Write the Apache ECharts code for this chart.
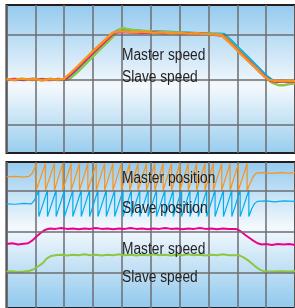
<!DOCTYPE html>
<html>
<head>
<meta charset="utf-8">
<script src="https://cdn.jsdelivr.net/npm/echarts@6/dist/echarts.min.js"></script>
<style>
  html, body { margin: 0; padding: 0; background: #fff; }
  #main { width: 295px; height: 308px; }
</style>
</head>
<body>
<div id="main"></div>
<script>
// x in scope divisions (0..10), y in vertical divisions

// top panel: master / slave speed, four captures overlaid
var topOrange = [[0,0.01],[0.25,-0.01],[0.5,0.02],[0.75,0],[1.0,0.01],[1.25,-0.02],[1.5,0.01],[1.75,0],[1.98,0.01],[2.2,0.13],[2.45,0.28],[2.7,0.44],[2.95,0.6],[3.2,0.75],[3.45,0.9],[3.68,1.04],[3.9,1.07],[4.2,1.06],[4.5,1.05],[4.8,1.06],[5.1,1.04],[5.4,1.05],[5.7,1.03],[6.0,1.04],[6.3,1.02],[6.6,1.03],[6.9,1.01],[7.2,1.0],[7.45,0.99],[7.7,0.84],[7.95,0.68],[8.2,0.52],[8.45,0.37],[8.7,0.22],[8.95,0.06],[9.1,-0.01],[9.3,-0.03],[9.55,-0.04],[9.8,-0.03],[10,-0.04]];
var topMagenta = [[0,0],[0.3,0.01],[0.6,-0.01],[0.9,0.01],[1.2,0],[1.5,-0.01],[1.8,0.01],[2.03,0],[2.25,0.13],[2.5,0.28],[2.75,0.44],[3.0,0.6],[3.25,0.75],[3.5,0.9],[3.73,1.04],[3.95,1.06],[4.3,1.05],[4.7,1.04],[5.1,1.05],[5.5,1.03],[5.9,1.03],[6.3,1.02],[6.7,1.02],[7.1,1.0],[7.48,0.98],[7.75,0.82],[8.0,0.66],[8.25,0.5],[8.5,0.35],[8.75,0.19],[9.0,0.04],[9.15,-0.03],[9.4,-0.05],[9.7,-0.04],[10,-0.05]];
var topGreen = [[0,-0.01],[0.3,0],[0.6,0.01],[0.9,-0.01],[1.2,0.01],[1.5,0],[1.8,-0.01],[2.1,0],[2.2,0.02],[2.45,0.16],[2.7,0.32],[2.95,0.48],[3.2,0.64],[3.45,0.8],[3.7,0.96],[3.88,1.1],[4.02,1.15],[4.2,1.12],[4.5,1.09],[4.8,1.08],[5.2,1.06],[5.6,1.05],[6.0,1.04],[6.4,1.03],[6.8,1.02],[7.2,1.01],[7.5,0.99],[7.75,0.84],[8.0,0.68],[8.25,0.52],[8.5,0.36],[8.75,0.2],[9.0,0.04],[9.2,-0.07],[9.45,-0.13],[9.6,-0.13],[9.8,-0.1],[10,-0.09]];
var topCyan = [[0,0.01],[0.3,-0.01],[0.6,0],[0.9,0.01],[1.2,-0.01],[1.5,0.01],[1.8,0],[2.12,0],[2.35,0.14],[2.6,0.3],[2.85,0.46],[3.1,0.62],[3.35,0.78],[3.6,0.94],[3.82,1.08],[4.0,1.12],[4.3,1.1],[4.7,1.08],[5.1,1.07],[5.5,1.06],[5.9,1.05],[6.3,1.04],[6.7,1.03],[7.1,1.02],[7.55,1.01],[7.8,0.86],[8.05,0.7],[8.3,0.54],[8.55,0.38],[8.8,0.22],[9.05,0.06],[9.25,-0.03],[9.5,-0.05],[9.75,-0.04],[10,-0.05]];

// bottom panel: position counters (wrapping) and speeds
var masterPos = [[0,1.33],[0.3,1.34],[0.6,1.32],[0.78,1.34],[0.9,1.42],[0.98,1.55],[1.03,1.65],[1.03,1.0],[1.35,1.65],[1.35,1.0],[1.66,1.65],[1.66,1.0],[1.95,1.65],[1.95,1.0],[2.24,1.65],[2.24,1.0],[2.53,1.65],[2.53,1.0],[2.82,1.65],[2.82,1.0],[3.11,1.65],[3.11,1.0],[3.40,1.65],[3.40,1.0],[3.69,1.65],[3.69,1.0],[3.98,1.65],[3.98,1.0],[4.27,1.65],[4.27,1.0],[4.56,1.65],[4.56,1.0],[4.85,1.65],[4.85,1.0],[5.14,1.65],[5.14,1.0],[5.43,1.65],[5.43,1.0],[5.72,1.65],[5.72,1.0],[6.01,1.65],[6.01,1.0],[6.30,1.65],[6.30,1.0],[6.59,1.65],[6.59,1.0],[6.88,1.65],[6.88,1.0],[7.17,1.65],[7.17,1.0],[7.46,1.65],[7.46,1.0],[7.75,1.65],[7.75,1.0],[8.04,1.65],[8.04,1.0],[8.34,1.65],[8.34,1.0],[8.45,1.18],[8.55,1.33],[8.66,1.42],[8.9,1.43],[9.2,1.41],[9.5,1.43],[9.8,1.42],[10,1.43]];
var slavePos = [[0,0.67],[0.3,0.66],[0.6,0.68],[0.86,0.67],[0.97,0.76],[1.05,0.88],[1.12,1.0],[1.12,0.36],[1.42,1.0],[1.42,0.36],[1.72,1.0],[1.72,0.36],[2.01,1.0],[2.01,0.36],[2.30,1.0],[2.30,0.36],[2.59,1.0],[2.59,0.36],[2.88,1.0],[2.88,0.36],[3.17,1.0],[3.17,0.36],[3.46,1.0],[3.46,0.36],[3.75,1.0],[3.75,0.36],[4.04,1.0],[4.04,0.36],[4.33,1.0],[4.33,0.36],[4.62,1.0],[4.62,0.36],[4.91,1.0],[4.91,0.36],[5.20,1.0],[5.20,0.36],[5.49,1.0],[5.49,0.36],[5.78,1.0],[5.78,0.36],[6.07,1.0],[6.07,0.36],[6.36,1.0],[6.36,0.36],[6.65,1.0],[6.65,0.36],[6.94,1.0],[6.94,0.36],[7.23,1.0],[7.23,0.36],[7.52,1.0],[7.52,0.36],[7.81,1.0],[7.81,0.36],[8.10,1.0],[8.10,0.36],[8.40,1.0],[8.40,0.36],[8.5,0.55],[8.6,0.68],[8.7,0.73],[9.0,0.74],[9.3,0.72],[9.6,0.74],[10,0.73]];
var masterSpeed = [[0,-0.31],[0.2,-0.29],[0.4,-0.32],[0.6,-0.30],[0.75,-0.29],[0.9,-0.22],[1.05,-0.12],[1.2,-0.03],[1.35,0.04],[1.5,0.07],[1.7,0.06],[1.9,0.08],[2.1,0.06],[2.3,0.07],[2.5,0.05],[2.7,0.07],[2.9,0.06],[3.1,0.08],[3.3,0.06],[3.5,0.07],[3.7,0.05],[3.9,0.07],[4.1,0.06],[4.3,0.08],[4.5,0.06],[4.7,0.07],[4.9,0.05],[5.1,0.07],[5.3,0.06],[5.5,0.08],[5.7,0.06],[5.9,0.07],[6.1,0.05],[6.3,0.07],[6.5,0.06],[6.7,0.08],[6.9,0.06],[7.1,0.07],[7.3,0.05],[7.5,0.07],[7.7,0.06],[7.95,0.06],[8.1,0.01],[8.3,-0.1],[8.5,-0.2],[8.7,-0.29],[8.85,-0.32],[9.0,-0.31],[9.2,-0.33],[9.4,-0.31],[9.6,-0.32],[9.8,-0.31],[10,-0.33]];
var slaveSpeed = [[0,-0.98],[0.2,-0.97],[0.4,-0.99],[0.6,-0.98],[0.8,-0.96],[0.95,-0.92],[1.1,-0.85],[1.25,-0.78],[1.4,-0.66],[1.55,-0.6],[1.7,-0.58],[1.9,-0.57],[2.1,-0.59],[2.3,-0.57],[2.5,-0.58],[2.7,-0.56],[2.9,-0.58],[3.1,-0.57],[3.3,-0.59],[3.5,-0.57],[3.7,-0.58],[3.9,-0.56],[4.1,-0.58],[4.3,-0.57],[4.5,-0.59],[4.7,-0.57],[4.9,-0.58],[5.1,-0.56],[5.3,-0.58],[5.5,-0.57],[5.7,-0.59],[5.9,-0.57],[6.1,-0.58],[6.3,-0.56],[6.5,-0.58],[6.7,-0.57],[6.9,-0.59],[7.1,-0.57],[7.3,-0.58],[7.5,-0.56],[7.7,-0.58],[8.05,-0.58],[8.2,-0.63],[8.4,-0.72],[8.6,-0.84],[8.8,-0.94],[8.95,-0.98],[9.2,-0.98],[9.5,-0.97],[9.8,-0.98],[10,-0.97]];

var hLines = [-1, 0, 1];

var topLabels = ['Master speed', 'Slave speed'];
var bottomLabels = ['Master position', 'Slave position', 'Master speed', 'Slave speed'];

var gridColor = '#6d6e71';
var bg = new echarts.graphic.LinearGradient(0, 0, 0, 1, [
  { offset: 0, color: '#94caee' },
  { offset: 0.55, color: '#f4f9fd' },
  { offset: 1, color: '#98ccee' }
]);
var bg2 = new echarts.graphic.LinearGradient(0, 0, 0, 1, [
  { offset: 0, color: '#94caee' },
  { offset: 0.45, color: '#f4f9fd' },
  { offset: 0.95, color: '#98ccee' },
  { offset: 1, color: '#98ccee' }
]);

function axisX(i) {
  return {
    type: 'value', gridIndex: i, min: 0, max: 10, interval: 1,
    axisLine: { show: false }, axisTick: { show: false }, axisLabel: { show: false },
    splitLine: { show: true, lineStyle: { color: gridColor, width: 1.5 } }
  };
}
function axisY(i, min, max) {
  return {
    type: 'value', gridIndex: i, min: min, max: max,
    axisLine: { show: false }, axisTick: { show: false }, axisLabel: { show: false },
    splitLine: { show: false }
  };
}
function trace(data, color, width, i, z) {
  return {
    type: 'line', xAxisIndex: i, yAxisIndex: i, data: data,
    showSymbol: false, smooth: false, z: z, animation: false,
    lineStyle: { color: color, width: width }
  };
}
function gridLines(i) {
  return {
    type: 'line', xAxisIndex: i, yAxisIndex: i, data: [], z: 1, animation: false,
    markLine: {
      silent: true, symbol: 'none', animation: false,
      label: { show: false },
      lineStyle: { color: gridColor, width: 1.5, type: 'solid' },
      data: hLines.map(function (v) { return { yAxis: v }; })
    }
  };
}

// condensed look: regular sans squeezed horizontally
var font = '16px "Liberation Sans", Arial, sans-serif';
function label(text, x, y) {
  return {
    type: 'text', x: x, y: y, z: 100, scaleX: 0.86,
    style: { text: text, font: font, fill: '#231f20', verticalAlign: 'middle' }
  };
}

var chart = echarts.init(document.getElementById('main'));
chart.setOption({
  animation: false,
  grid: [
    { left: 6.5, right: -3.5, top: 5, height: 148, show: true, backgroundColor: bg, borderColor: '#231f20', borderWidth: 2 },
    { left: 6.5, right: -3.5, top: 162, height: 160, show: true, backgroundColor: bg2, borderColor: '#231f20', borderWidth: 2 }
  ],
  xAxis: [axisX(0), axisX(1)],
  yAxis: [axisY(0, -1.633, 1.656), axisY(1, -1.867, 1.689)],
  series: [
    gridLines(0),
    gridLines(1),
    trace(topCyan, '#00aeef', 2.5, 0, 2),
    trace(topGreen, '#8dc63f', 2.5, 0, 3),
    trace(topMagenta, '#ec008c', 2.5, 0, 4),
    trace(topOrange, '#f7941d', 2.5, 0, 5),
    trace(masterPos, '#f7941d', 1.2, 1, 3),
    trace(slavePos, '#00aeef', 1.2, 1, 3),
    trace(masterSpeed, '#ec008c', 2, 1, 3),
    trace(slaveSpeed, '#8dc63f', 2, 1, 3)
  ],
  graphic: [
    label(topLabels[0], 122, 56),
    label(topLabels[1], 122, 78),
    label(bottomLabels[0], 122, 179),
    label(bottomLabels[1], 122, 209),
    label(bottomLabels[2], 122, 250),
    label(bottomLabels[3], 122, 278)
  ]
});
</script>
</body>
</html>
